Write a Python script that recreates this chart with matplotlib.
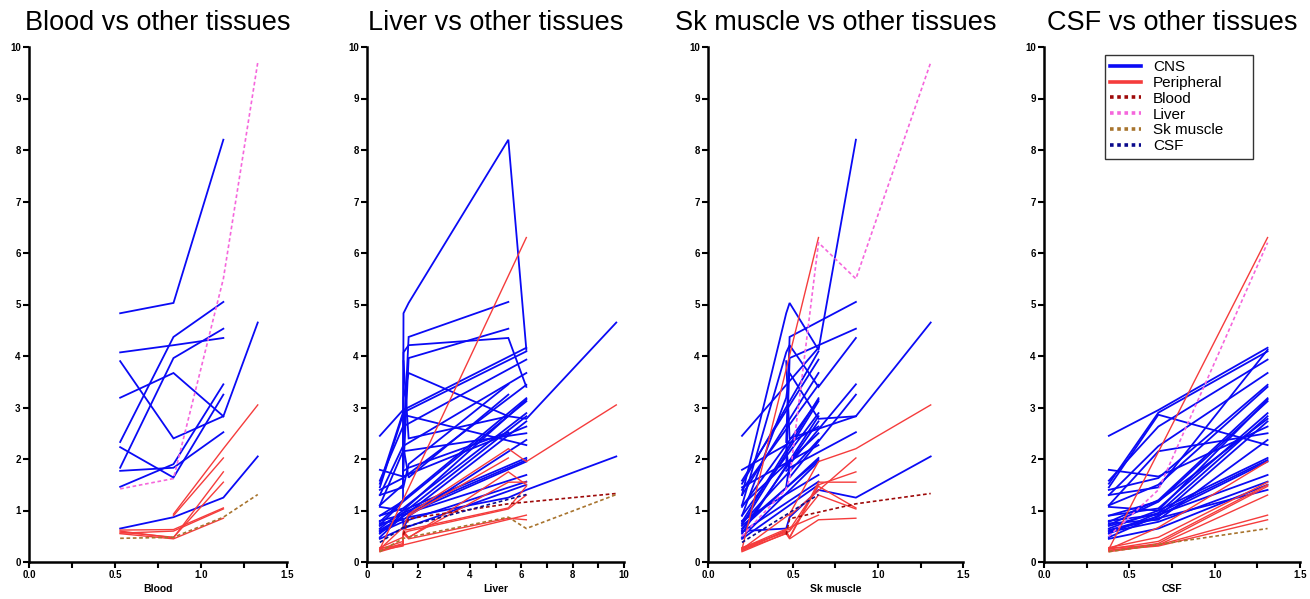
import numpy as np
import matplotlib
matplotlib.use("Agg")
import matplotlib.pyplot as plt
from matplotlib.lines import Line2D
from matplotlib.ticker import MultipleLocator, FormatStrFormatter

nan = np.nan

# Seven sampling conditions; each reference tissue value per condition (nan = not measured)
conditions = ["S1", "S2", "S3", "S4", "S5", "S6", "S7"]
blood     = [nan,  nan,  0.53, 0.84, 1.13, nan,  1.33]
liver     = [0.50, 1.40, 1.42, 1.62, 5.50, 6.20, 9.70]
sk_muscle = [0.20, nan,  0.46, 0.48, 0.87, 0.65, 1.31]
csf       = [0.38, 0.67, nan,  nan,  nan,  1.31, nan]

# CNS tissues (values per condition)
cns = [
    [1.30, 1.45, 4.83, 5.03, 8.20, 4.12, nan],
    [nan,  nan,  2.33, 4.37, 5.05, nan,  nan],
    [1.10, 1.50, 4.07, 4.21, 4.35, 3.40, nan],
    [nan,  nan,  1.83, 3.96, 4.53, nan,  nan],
    [nan,  nan,  3.90, 2.40, 2.83, nan,  nan],
    [0.90, 1.18, 3.19, 3.67, 2.83, 2.78, 4.65],
    [nan,  nan,  2.23, 1.64, 3.25, nan,  nan],
    [nan,  nan,  1.77, 1.83, 2.52, nan,  nan],
    [nan,  nan,  1.46, 1.90, 3.45, nan,  nan],
    [0.60, 0.85, 0.65, 0.87, 1.25, 1.40, 2.05],
    [2.45, 2.95, nan,  nan,  nan,  4.16, nan],
    [1.52, 2.90, nan,  nan,  nan,  4.09, nan],
    [1.45, 2.86, nan,  nan,  nan,  2.27, nan],
    [1.58, 2.63, nan,  nan,  nan,  3.93, nan],
    [1.30, 2.25, nan,  nan,  nan,  3.67, nan],
    [1.10, 2.15, nan,  nan,  nan,  2.50, nan],
    [1.79, 1.66, nan,  nan,  nan,  2.63, nan],
    [1.40, 1.63, nan,  nan,  nan,  3.44, nan],
    [0.78, 1.20, nan,  nan,  nan,  3.18, nan],
    [0.72, 1.17, nan,  nan,  nan,  3.12, nan],
    [0.90, 1.04, nan,  nan,  nan,  2.89, nan],
    [0.55, 0.95, nan,  nan,  nan,  2.83, nan],
    [0.62, 0.88, nan,  nan,  nan,  2.73, nan],
    [0.75, 0.82, nan,  nan,  nan,  2.37, nan],
    [0.65, 1.00, nan,  nan,  nan,  2.02, nan],
    [0.70, 0.95, nan,  nan,  nan,  1.98, nan],
    [0.48, 0.90, nan,  nan,  nan,  1.95, nan],
    [0.80, 0.92, nan,  nan,  nan,  1.69, nan],
    [0.58, 0.78, nan,  nan,  nan,  1.56, nan],
    [0.45, 0.65, nan,  nan,  nan,  1.50, nan],
    [1.07, 1.00, nan,  nan,  nan,  3.15, nan],
]

# Peripheral tissues (values per condition)
peripheral = [
    [0.25, 0.67, nan,  0.93, 2.20, 1.95, 3.05],
    [nan,  nan,  nan,  0.90, 2.02, nan,  nan],
    [0.25, 0.40, 0.60, 0.47, 1.75, 1.50, nan],
    [0.28, 0.48, 0.58, 0.48, 1.55, 1.55, nan],
    [0.22, 0.36, 0.62, 0.63, 1.05, 1.47, nan],
    [0.20, 0.33, 0.56, 0.60, 1.03, 1.30, nan],
    [0.23, 0.31, 0.55, 0.45, 0.85, 0.82, nan],
    [0.25, nan,  nan,  nan,  nan,  6.30, nan],
    [0.27, 0.33, nan,  nan,  nan,  0.91, nan],
]

ref_names = ["Blood", "Liver", "Sk muscle", "CSF"]
ref_values = [blood, liver, sk_muscle, csf]

C_CNS = "#0A0AF5"
C_PER = "#F53C3C"
ref_colors = ["#9E0A0A", "#F566DC", "#A8742E", "#0A0A8C"]

plt.rcParams['font.family'] = ['Liberation Sans', 'DejaVu Sans']

fig = plt.figure(figsize=(13.10, 5.99), dpi=100)
W, H = 1310, 599
panels = [
    dict(left=29, right=287, xlim=(0, 1.5), major=0.5, minor=0.25, fmt='%.1f'),
    dict(left=367, right=624, xlim=(0, 10), major=2, minor=1, fmt='%d'),
    dict(left=708, right=963, xlim=(0, 1.5), major=0.5, minor=0.25, fmt='%.1f'),
    dict(left=1044, right=1300, xlim=(0, 1.5), major=0.5, minor=0.25, fmt='%.1f'),
]
top_px, bot_px = 47, 562


def draw_row(ax, xref, row, **kw):
    x = np.asarray(xref, dtype=float)
    y = np.asarray(row, dtype=float)
    m = ~np.isnan(x) & ~np.isnan(y)
    if m.sum() < 1:
        return
    xs, ys = x[m], y[m]
    order = np.argsort(xs, kind='stable')
    ax.plot(xs[order], ys[order], **kw)


for i, (p, name, xref) in enumerate(zip(panels, ref_names, ref_values)):
    ax = fig.add_axes([p['left'] / W, (H - bot_px) / H,
                       (p['right'] - p['left']) / W, (bot_px - top_px) / H])
    for row in cns:
        draw_row(ax, xref, row, color=C_CNS, lw=1.3, solid_joinstyle='miter')
    for row in peripheral:
        draw_row(ax, xref, row, color=C_PER, lw=1.0, solid_joinstyle='miter')
    for j, (other, col) in enumerate(zip(ref_values, ref_colors)):
        if j == i:
            continue
        draw_row(ax, xref, other, color=col, lw=1.2, linestyle=(0, (2.2, 1.6)))

    ax.set_xlim(*p['xlim'])
    ax.set_ylim(0, 10)
    for s in ['top', 'right']:
        ax.spines[s].set_visible(False)
    for s in ['left', 'bottom']:
        ax.spines[s].set_linewidth(1.8)
    ax.yaxis.set_major_locator(MultipleLocator(1))
    ax.xaxis.set_major_locator(MultipleLocator(p['major']))
    ax.xaxis.set_minor_locator(MultipleLocator(p['minor']))
    ax.xaxis.set_major_formatter(FormatStrFormatter(p['fmt']))
    ax.tick_params(axis='both', which='major', length=4, width=1.5,
                   labelsize=7, pad=2)
    ax.tick_params(axis='x', which='minor', length=4, width=1.5)
    for lab in ax.get_xticklabels() + ax.get_yticklabels():
        lab.set_fontweight('bold')
    ax.set_xlabel(name, fontsize=7.5, fontweight='bold', labelpad=3)
    ax.set_title(f"{name} vs other tissues", fontsize=19.5, pad=12)

    if i == 3:
        handles = [Line2D([], [], color=C_CNS, lw=2.6),
                   Line2D([], [], color=C_PER, lw=2.6)]
        for col in ref_colors:
            handles.append(Line2D([], [], color=col, lw=2.6, linestyle=(0, (1, 1))))
        labels = ["CNS", "Peripheral"] + ref_names
        leg = ax.legend(handles, labels, loc='upper left',
                        bbox_to_anchor=(0.238, 0.79, 0.578, 0.195), mode='expand',
                        fontsize=11, frameon=True, fancybox=False,
                        handlelength=2.0, handletextpad=0.8, borderpad=0.35,
                        labelspacing=0.12, borderaxespad=0)
        leg.get_frame().set_edgecolor('black')
        leg.get_frame().set_linewidth(1.0)

fig.savefig("out.png", dpi=100)
